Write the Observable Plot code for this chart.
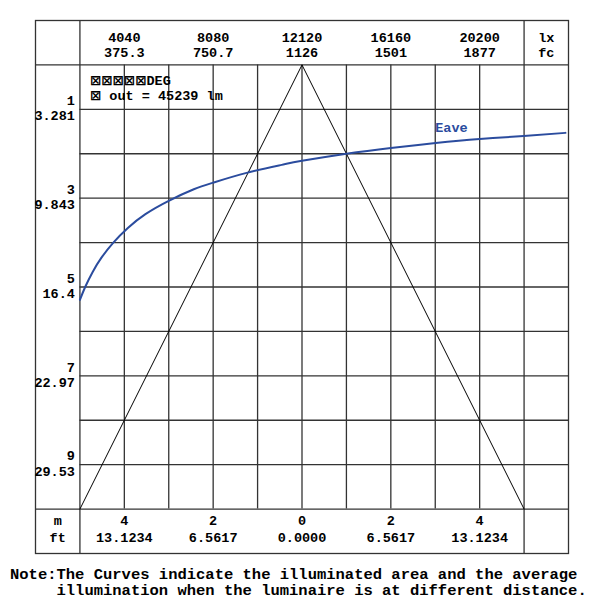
<!DOCTYPE html>
<html><head><meta charset="utf-8">
<script src="https://cdn.jsdelivr.net/npm/d3@7"></script>
<script src="https://cdn.jsdelivr.net/npm/@observablehq/plot@0.6"></script>
<style>
body{margin:0;background:#fff;}
#wrap{position:relative;width:600px;height:600px;overflow:hidden;}
#note{position:absolute;left:10px;top:568px;font:bold 15.5px 'Liberation Mono',monospace;white-space:pre;line-height:15.5px;color:#000;}
</style></head><body><div id="wrap"><div id="chart"></div><div id="note"></div></div>
<script>
// Top axis: illuminance (lux / footcandles)
const luxTicks = [4040, 8080, 12120, 16160, 20200];
const fcTicks = ["375.3", "750.7", "1126", "1501", "1877"];
// Bottom axis: beam half-width (m / ft)
const meterTicks = [-4, -2, 0, 2, 4];
const meterLabels = ["4", "2", "0", "2", "4"];
const ftLabels = ["13.1234", "6.5617", "0.0000", "6.5617", "13.1234"];
// Left axis: distance (m / ft)
const distTicks = [1, 3, 5, 7, 9];
const distFtLabels = ["3.281", "9.843", "16.4", "22.97", "29.53"];
// Beam outline (half-width m, distance m)
const beamX = [-5, 0, 5];
const beamDist = [10, 0, 10];
// Eave curve (average illuminance lux, distance m)
const eaveLux = [2020, 2260, 2600, 3000, 3540, 4200, 5000, 6060, 7200, 8080, 9600, 11200, 12120, 14140, 16160, 18200, 20200, 22200, 24100];
const eaveDist = [5.29, 5.00, 4.66, 4.34, 4.00, 3.67, 3.36, 3.06, 2.80, 2.65, 2.43, 2.25, 2.16, 2.00, 1.87, 1.76, 1.67, 1.60, 1.53];
const angleLabel = "⊠⊠⊠⊠⊠DEG";
const fluxLabel = "⊠ out = 45239 lm";
const noteLines = ["Note:The Curves indicate the illuminated area and the average", "     illumination when the luminaire is at different distance."];

const luxToX = d3.scaleLinear().domain([luxTicks[0], luxTicks[4]]).range([meterTicks[0], meterTicks[4]]);
const eaveRows = eaveLux.map((l, i) => ({x: luxToX(l), y: eaveDist[i]}));
const beamRows = beamX.map((x, i) => ({x, y: beamDist[i]}));
const topRows = luxTicks.map((l, i) => ({x: luxToX(l), lux: String(l), fc: fcTicks[i]}));
const bottomRows = meterTicks.map((m, i) => ({x: m, m: meterLabels[i], ft: ftLabels[i]}));
const leftRows = distTicks.map((d, i) => ({y: d, m: String(d), ft: distFtLabels[i]}));

const gridCol = "#333";
const gw = 1.3;
const fs = 13.5;
const blue = "#2b4c9e";
const legendFont = "'Liberation Mono', 'DejaVu Sans', monospace";

const chart = Plot.plot({
  width: 600, height: 555,
  marginLeft: 35, marginRight: 32, marginTop: 20, marginBottom: 2,
  x: {domain: [-6, 6], axis: null},
  y: {domain: [-1, 11], reverse: true, axis: null},
  style: {fontFamily: "'Liberation Mono', monospace", fontWeight: "bold", background: "#fff"},
  marks: [
    Plot.ruleX(d3.range(-4, 5), {y1: 0, y2: 10, stroke: gridCol, strokeWidth: gw}),
    Plot.ruleY(d3.range(1, 10), {x1: -5, x2: 6, stroke: gridCol, strokeWidth: gw}),
    Plot.ruleX([-5, 5], {y1: -1, y2: 11, stroke: gridCol, strokeWidth: gw}),
    Plot.ruleY([0, 10], {x1: -6, x2: 6, stroke: gridCol, strokeWidth: gw}),
    Plot.frame({stroke: gridCol, strokeWidth: gw}),
    Plot.line(beamRows, {x: "x", y: "y", stroke: "#000", strokeWidth: 1}),
    Plot.line(eaveRows, {x: "x", y: "y", stroke: blue, strokeWidth: 2, curve: "natural"}),
    Plot.text(["Eave"], {x: luxToX(luxTicks[3]) + 1, y: 1, text: d => d, fill: blue, fontSize: 13.5, textAnchor: "start", dx: 0, dy: 18}),
    Plot.text(topRows, {x: "x", y: -0.5, text: "lux", fontSize: fs, dy: -5, fill: "#000"}),
    Plot.text(topRows, {x: "x", y: -0.5, text: "fc", fontSize: fs, dy: 10, fill: "#000"}),
    Plot.text(["lx"], {x: 5.5, y: -0.5, text: d => d, fontSize: fs, dy: -5}),
    Plot.text(["fc"], {x: 5.5, y: -0.5, text: d => d, fontSize: fs, dy: 10}),
    Plot.text(bottomRows, {x: "x", y: 10.5, text: "m", fontSize: fs, dy: -10.8}),
    Plot.text(bottomRows, {x: "x", y: 10.5, text: "ft", fontSize: fs, dy: 6.2}),
    Plot.text(["m"], {x: -5.5, y: 10.5, text: d => d, fontSize: fs, dy: -10.8}),
    Plot.text(["ft"], {x: -5.5, y: 10.5, text: d => d, fontSize: fs, dy: 6.2}),
    Plot.text(leftRows, {x: -5, y: "y", text: "m", fontSize: fs, textAnchor: "end", dx: -5, dy: -8.5}),
    Plot.text(leftRows, {x: -5, y: "y", text: "ft", fontSize: fs, textAnchor: "end", dx: -5, dy: 6.8}),
    Plot.text([angleLabel], {x: -5, y: 0, text: d => d, fontSize: 13.5, fontFamily: legendFont, textAnchor: "start", dx: 10, dy: 15.5}),
    Plot.text([fluxLabel], {x: -5, y: 0, text: d => d, fontSize: 13.5, fontFamily: legendFont, textAnchor: "start", dx: 10, dy: 31})
  ]
});
document.getElementById("chart").appendChild(chart);
document.getElementById("note").textContent = noteLines.join("\n");
</script></body></html>
